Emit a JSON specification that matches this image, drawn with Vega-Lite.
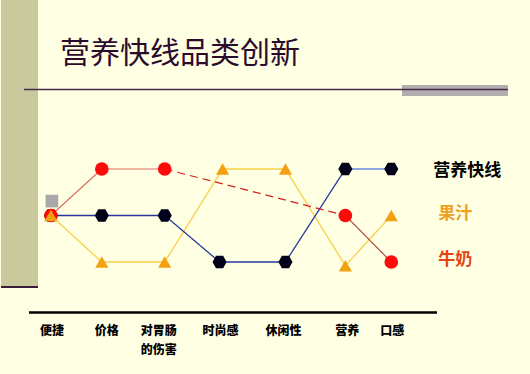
{
  "$schema": "https://vega.github.io/schema/vega-lite/v6.json",
  "autosize": {"type": "fit", "contains": "padding"},
  "width": 530,
  "height": 374,
  "padding": 0,
  "background": "#FFFFE4",
  "config": {"view": {"stroke": null}, "font": "Noto Sans CJK SC"},
  "datasets": {
    "categories": [
      {"cat": "便捷", "label": "便捷", "label2": "", "pos": 51},
      {"cat": "价格", "label": "价格", "label2": "", "pos": 106},
      {"cat": "对胃肠的伤害", "label": "对胃肠", "label2": "的伤害", "pos": 158},
      {"cat": "时尚感", "label": "时尚感", "label2": "", "pos": 220},
      {"cat": "休闲性", "label": "休闲性", "label2": "", "pos": 283},
      {"cat": "营养", "label": "营养", "label2": "", "pos": 347},
      {"cat": "口感", "label": "口感", "label2": "", "pos": 392}
    ],
    "lines": [
      {"track": "果汁", "cat": "便捷", "pos": 50, "level": 2},
      {"track": "果汁", "cat": "价格", "pos": 101, "level": 1},
      {"track": "果汁", "cat": "对胃肠的伤害", "pos": 164, "level": 1},
      {"track": "果汁", "cat": "时尚感", "pos": 222, "level": 3},
      {"track": "果汁", "cat": "休闲性", "pos": 285, "level": 3},
      {"track": "果汁", "cat": "营养", "pos": 345, "level": 0.92},
      {"track": "果汁", "cat": "口感", "pos": 391, "level": 2},
      {"track": "营养快线a", "cat": "便捷", "pos": 50, "level": 2},
      {"track": "营养快线a", "cat": "价格", "pos": 101, "level": 2},
      {"track": "营养快线a", "cat": "对胃肠的伤害", "pos": 164, "level": 2},
      {"track": "营养快线a", "cat": "时尚感", "pos": 219, "level": 1},
      {"track": "营养快线a", "cat": "休闲性", "pos": 285, "level": 1},
      {"track": "营养快线a", "cat": "营养", "pos": 345, "level": 3},
      {"track": "营养快线b", "cat": "营养", "pos": 345, "level": 3},
      {"track": "营养快线b", "cat": "口感", "pos": 391, "level": 3},
      {"track": "牛奶a", "cat": "便捷", "pos": 50, "level": 2},
      {"track": "牛奶a", "cat": "价格", "pos": 101, "level": 3},
      {"track": "牛奶a", "cat": "对胃肠的伤害", "pos": 164, "level": 3},
      {"track": "牛奶b", "cat": "对胃肠的伤害", "pos": 164, "level": 3},
      {"track": "牛奶b", "cat": "营养", "pos": 345, "level": 2},
      {"track": "牛奶c", "cat": "营养", "pos": 345, "level": 2},
      {"track": "牛奶c", "cat": "口感", "pos": 391, "level": 1}
    ],
    "points": [
      {"series": "营养快线", "cat": "便捷", "pos": 50, "level": 2},
      {"series": "营养快线", "cat": "价格", "pos": 101, "level": 2},
      {"series": "营养快线", "cat": "对胃肠的伤害", "pos": 164, "level": 2},
      {"series": "营养快线", "cat": "时尚感", "pos": 219, "level": 1},
      {"series": "营养快线", "cat": "休闲性", "pos": 285, "level": 1},
      {"series": "营养快线", "cat": "营养", "pos": 345, "level": 3},
      {"series": "营养快线", "cat": "口感", "pos": 391, "level": 3},
      {"series": "牛奶", "cat": "便捷", "pos": 50, "level": 2},
      {"series": "牛奶", "cat": "价格", "pos": 101, "level": 3},
      {"series": "牛奶", "cat": "对胃肠的伤害", "pos": 164, "level": 3},
      {"series": "牛奶", "cat": "营养", "pos": 345, "level": 2},
      {"series": "牛奶", "cat": "口感", "pos": 391, "level": 1},
      {"series": "果汁", "cat": "便捷", "pos": 50, "level": 2},
      {"series": "果汁", "cat": "价格", "pos": 101, "level": 1},
      {"series": "果汁", "cat": "对胃肠的伤害", "pos": 164, "level": 1},
      {"series": "果汁", "cat": "时尚感", "pos": 222, "level": 3},
      {"series": "果汁", "cat": "休闲性", "pos": 285, "level": 3},
      {"series": "果汁", "cat": "营养", "pos": 345, "level": 0.92},
      {"series": "果汁", "cat": "口感", "pos": 391, "level": 2},
      {"series": "标记", "cat": "便捷", "pos": 51, "level": 2.31}
    ],
    "legend": [
      {"series": "营养快线", "pos": 433, "level": 2.96},
      {"series": "果汁", "pos": 438, "level": 2.04},
      {"series": "牛奶", "pos": 438, "level": 1.04}
    ]
  },
  "resolve": {"scale": {"color": "independent", "shape": "independent", "size": "independent", "strokeDash": "independent", "strokeWidth": "independent"}},
  "layer": [
    {
      "data": {"values": [{}]},
      "mark": {"type": "rect", "color": "#C9C99D"},
      "encoding": {"x": {"value": 0}, "x2": {"value": 37}, "y": {"value": 0}, "y2": {"value": 286}}
    },
    {
      "data": {"values": [{}]},
      "mark": {"type": "rule", "color": "#3A1C3A", "strokeWidth": 2},
      "encoding": {"x": {"value": 0}, "x2": {"value": 37}, "y": {"value": 287}}
    },
    {
      "data": {"values": [{}]},
      "mark": {"type": "rect", "color": "#B2AEAE"},
      "encoding": {"x": {"value": 401}, "x2": {"value": 507}, "y": {"value": 85}, "y2": {"value": 96}}
    },
    {
      "data": {"values": [{}]},
      "mark": {"type": "rule", "color": "#4A2A4A", "strokeWidth": 1.6},
      "encoding": {"x": {"value": 23}, "x2": {"value": 507}, "y": {"value": 89.5}}
    },
    {
      "data": {"values": [{"t": "营养快线品类创新"}]},
      "mark": {"type": "text", "align": "left", "baseline": "middle", "fontSize": 30, "color": "#2B0B2B", "font": "Noto Sans CJK SC"},
      "encoding": {"x": {"value": 59}, "y": {"value": 54}, "text": {"field": "t"}}
    },
    {
      "data": {"values": [{}]},
      "mark": {"type": "rule", "color": "#000000", "strokeWidth": 2.5},
      "encoding": {"x": {"value": 28}, "x2": {"value": 436}, "y": {"value": 312.5}}
    },
    {
      "data": {"name": "lines"},
      "mark": {"type": "line"},
      "encoding": {
        "x": {"field": "pos", "type": "quantitative", "scale": {"domain": [0, 530], "nice": false, "zero": false}, "axis": null},
        "y": {"field": "level", "type": "quantitative", "scale": {"domain": [1, 3], "range": [262, 169], "nice": false, "zero": false}, "axis": null},
        "detail": {"field": "track"},
        "color": {"field": "track", "type": "nominal", "legend": null,
          "scale": {"domain": ["果汁", "营养快线a", "营养快线b", "牛奶a", "牛奶b", "牛奶c"], "range": ["#F7CF48", "#26369E", "#6A8AE4", "#DB6A5A", "#D02020", "#B04848"]}},
        "strokeDash": {"field": "track", "type": "nominal", "legend": null,
          "scale": {"domain": ["果汁", "营养快线a", "营养快线b", "牛奶a", "牛奶b", "牛奶c"], "range": [[1, 0], [1, 0], [1, 0], [1, 0], [8, 5], [1, 0]]}},
        "strokeWidth": {"field": "track", "type": "nominal", "legend": null,
          "scale": {"domain": ["果汁", "营养快线a", "营养快线b", "牛奶a", "牛奶b", "牛奶c"], "range": [1.3, 1.2, 1.6, 1.2, 2.2, 1.2]}}
      }
    },
    {
      "data": {"name": "points"},
      "mark": {"type": "point", "filled": true, "opacity": 1},
      "encoding": {
        "x": {"field": "pos", "type": "quantitative", "scale": {"domain": [0, 530], "nice": false, "zero": false}, "axis": null},
        "y": {"field": "level", "type": "quantitative", "scale": {"domain": [1, 3], "range": [262, 169], "nice": false, "zero": false}, "axis": null},
        "shape": {"field": "series", "type": "nominal", "legend": null,
          "scale": {"domain": ["营养快线", "牛奶", "果汁", "标记"], "range": ["M-1,0L-0.5,-0.9L0.5,-0.9L1,0L0.5,0.9L-0.5,0.9Z", "circle", "triangle-up", "square"]}},
        "color": {"field": "series", "type": "nominal", "legend": null,
          "scale": {"domain": ["营养快线", "牛奶", "果汁", "标记"], "range": ["#000018", "#FF0A0A", "#F5A010", "#A8A8A8"]}},
        "size": {"field": "series", "type": "nominal", "legend": null,
          "scale": {"domain": ["营养快线", "牛奶", "果汁", "标记"], "range": [200, 160, 120, 70]}}
      }
    },
    {
      "data": {"name": "categories"},
      "mark": {"type": "text", "align": "center", "baseline": "middle", "fontSize": 12, "fontWeight": 900, "color": "#000000", "font": "Noto Sans CJK SC"},
      "encoding": {
        "x": {"field": "pos", "type": "quantitative", "scale": {"domain": [0, 530], "nice": false, "zero": false}, "axis": null},
        "y": {"value": 331},
        "text": {"field": "label"}
      }
    },
    {
      "data": {"name": "categories"},
      "transform": [{"filter": "datum.label2 !== ''"}],
      "mark": {"type": "text", "align": "center", "baseline": "middle", "fontSize": 12, "fontWeight": 900, "color": "#000000", "font": "Noto Sans CJK SC"},
      "encoding": {
        "x": {"field": "pos", "type": "quantitative", "scale": {"domain": [0, 530], "nice": false, "zero": false}, "axis": null},
        "y": {"value": 350},
        "text": {"field": "label2"}
      }
    },
    {
      "data": {"name": "legend"},
      "mark": {"type": "text", "align": "left", "baseline": "middle", "fontSize": 17, "fontWeight": "bold", "font": "Noto Sans CJK SC"},
      "encoding": {
        "x": {"field": "pos", "type": "quantitative", "scale": {"domain": [0, 530], "nice": false, "zero": false}, "axis": null},
        "y": {"field": "level", "type": "quantitative", "scale": {"domain": [1, 3], "range": [262, 169], "nice": false, "zero": false}, "axis": null},
        "text": {"field": "series"},
        "color": {"field": "series", "type": "nominal", "legend": null,
          "scale": {"domain": ["营养快线", "果汁", "牛奶"], "range": ["#000000", "#F0A020", "#E44412"]}}
      }
    }
  ]
}
